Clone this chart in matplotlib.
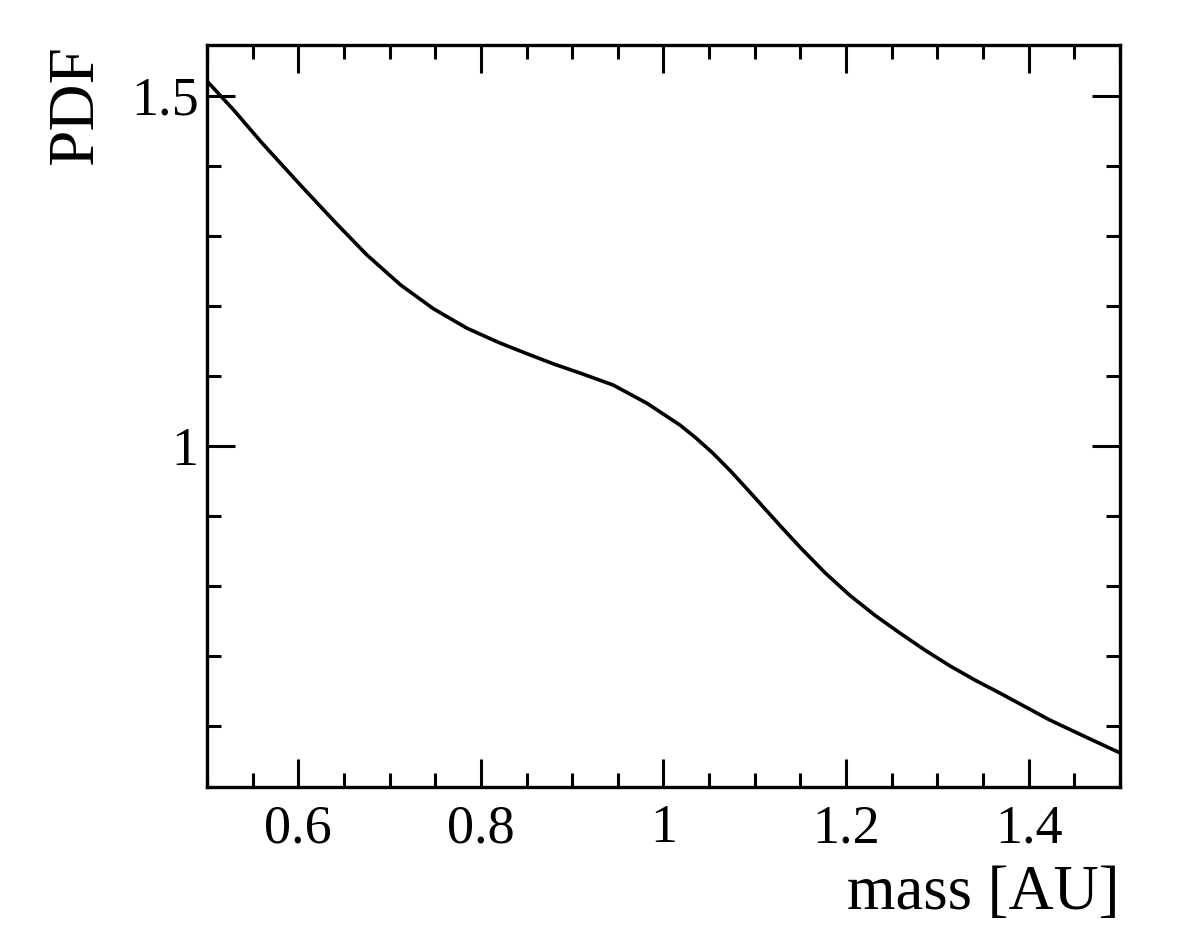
import matplotlib
matplotlib.use("Agg")
import matplotlib.pyplot as plt
from matplotlib.ticker import MultipleLocator, FixedLocator, FuncFormatter

# curve
mass = [0.500, 0.529, 0.560, 0.602, 0.640, 0.675, 0.712, 0.748, 0.785, 0.821,
        0.854, 0.880, 0.909, 0.945, 0.982, 1.018, 1.036, 1.054, 1.073, 1.092,
        1.110, 1.128, 1.150, 1.177, 1.204, 1.232, 1.259, 1.286, 1.314, 1.341,
        1.369, 1.396, 1.423, 1.462, 1.500]
pdf = [1.521, 1.480, 1.433, 1.373, 1.320, 1.273, 1.230, 1.196, 1.168, 1.147,
       1.130, 1.117, 1.104, 1.087, 1.061, 1.030, 1.011, 0.990, 0.965, 0.938,
       0.912, 0.886, 0.855, 0.819, 0.787, 0.758, 0.733, 0.709, 0.686, 0.666,
       0.647, 0.628, 0.609, 0.585, 0.562]

y_major = [1.0, 1.5]
y_minor = [0.6, 0.7, 0.8, 0.9, 1.1, 1.2, 1.3, 1.4]

plt.rcParams['font.family'] = ['Liberation Serif', 'DejaVu Serif']

fig = plt.figure(figsize=(11.82, 9.38), dpi=100)
ax = fig.add_axes([0.1751, 0.161, 0.7724, 0.791])

ax.plot(mass, pdf, color='black', linewidth=2.6)

ax.set_xlim(0.5, 1.5)
ax.set_ylim(0.5133, 1.5724)

ax.xaxis.set_major_locator(MultipleLocator(0.2))
ax.xaxis.set_minor_locator(MultipleLocator(0.05))
ax.yaxis.set_major_locator(FixedLocator(y_major))
ax.yaxis.set_minor_locator(FixedLocator(y_minor))
ax.xaxis.set_major_formatter(FuncFormatter(lambda v, p: f'{v:g}'))
ax.yaxis.set_major_formatter(FuncFormatter(lambda v, p: f'{v:g}'))

ax.tick_params(which='both', direction='in', top=True, right=True,
               width=2.2, labelsize=39, colors='black')
ax.tick_params(which='major', length=20)
ax.tick_params(which='minor', length=10)
ax.tick_params(axis='x', pad=12)
ax.tick_params(axis='y', pad=6)

for s in ax.spines.values():
    s.set_linewidth(2.4)

ax.set_xlabel('mass [AU]', fontsize=45, loc='right', labelpad=8)
ax.set_ylabel('PDF', fontsize=47, loc='top', labelpad=18)

fig.savefig('out.png', dpi=100)
